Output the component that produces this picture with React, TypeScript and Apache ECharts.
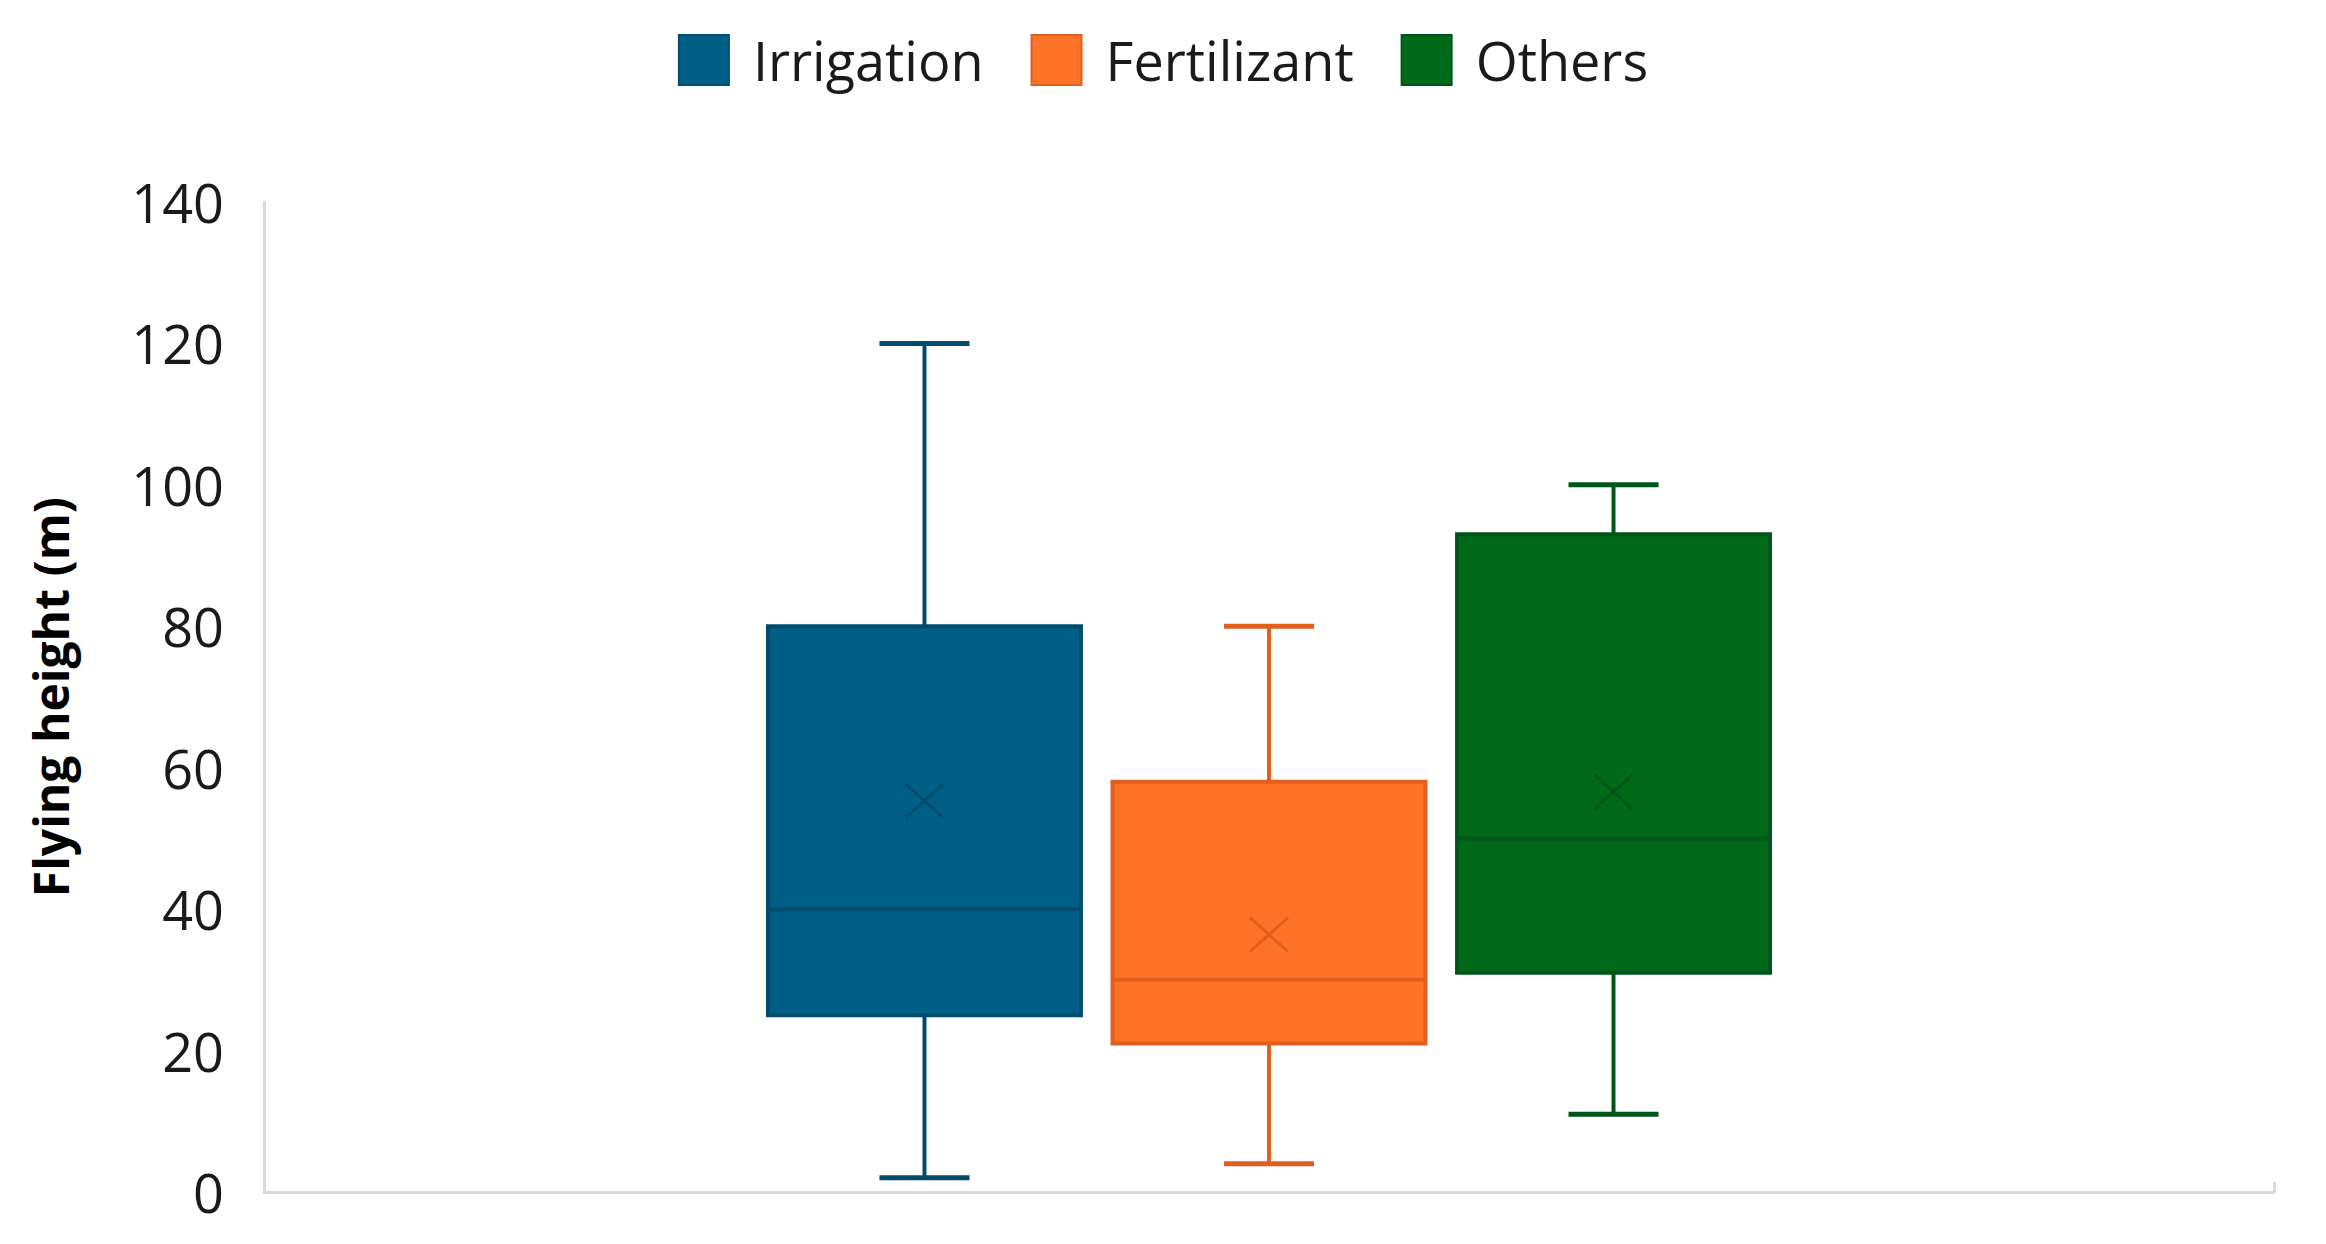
import React, { useEffect, useRef } from "react";
import * as echarts from "echarts";

// ---- Data ----
const categories = [""];
const seriesNames = ["Irrigation", "Fertilizant", "Others"];
// [categoryIndex, min, Q1, median, Q3, max, mean]
const irrigation = [0, 2, 25, 40, 80, 120, 55.3];
const fertilizant = [0, 4, 21, 30, 58, 80, 36.4];
const others = [0, 11, 31, 50, 93, 100, 56.6];
const yTicks = { min: 0, max: 140, interval: 20 };

const fills = ["#005F86", "#FF7328", "#00691A"];
const borders = ["#004C6D", "#E15E1C", "#00551A"];

const OFFSETS = [-0.1714, 0, 0.1714];
const BOX_FRAC = 0.1557;
const CAP_HALF_FRAC = 0.0224;

const FONT = "'Open Sans', 'Noto Sans', sans-serif";

export default function App() {
  const ref = useRef<HTMLDivElement>(null);
  useEffect(() => {
    if (!ref.current) return;
    const chart = echarts.init(ref.current, undefined, { renderer: "svg" });
    const datasets = [irrigation, fertilizant, others];

    const renderItem = (params: any, api: any) => {
      const si = params.seriesIndex;
      const idx = api.value(0);
      const band = api.size([1, 0])[0];
      const cx = api.coord([idx, 0])[0] + OFFSETS[si] * band;
      const w = BOX_FRAC * band;
      const cap = CAP_HALF_FRAC * band;
      const y = (i: number) => api.coord([idx, api.value(i)])[1];
      const yMin = y(1), yQ1 = y(2), yMed = y(3), yQ3 = y(4), yMax = y(5), yMean = y(6);
      const stroke = borders[si];
      const ls = { stroke, lineWidth: 4 };
      const xs = 19, ys = 17;
      return {
        type: "group",
        children: [
          { type: "line", shape: { x1: cx, y1: yQ3, x2: cx, y2: yMax }, style: ls },
          { type: "line", shape: { x1: cx, y1: yQ1, x2: cx, y2: yMin }, style: ls },
          { type: "line", shape: { x1: cx - cap, y1: yMax, x2: cx + cap, y2: yMax }, style: { stroke, lineWidth: 5 } },
          { type: "line", shape: { x1: cx - cap, y1: yMin, x2: cx + cap, y2: yMin }, style: { stroke, lineWidth: 5 } },
          {
            type: "rect",
            shape: { x: cx - w / 2, y: yQ3, width: w, height: yQ1 - yQ3 },
            style: { fill: fills[si], stroke, lineWidth: 4 },
          },
          { type: "line", shape: { x1: cx - w / 2, y1: yMed, x2: cx + w / 2, y2: yMed }, style: { stroke, lineWidth: 4 } },
          { type: "line", shape: { x1: cx - xs, y1: yMean - ys, x2: cx + xs, y2: yMean + ys }, style: { stroke, lineWidth: 3 } },
          { type: "line", shape: { x1: cx - xs, y1: yMean + ys, x2: cx + xs, y2: yMean - ys }, style: { stroke, lineWidth: 3 } },
        ],
      };
    };

    chart.setOption({
      animation: false,
      backgroundColor: "#ffffff",
      textStyle: { fontFamily: FONT },
      legend: {
        data: seriesNames,
        top: 28,
        left: "center",
        icon: "rect",
        itemWidth: 50,
        itemHeight: 50,
        itemGap: 47,
        textStyle: { fontSize: 54, color: "#1a1a1a", fontFamily: FONT, padding: [0, 0, 0, 19] },
      },
      grid: { left: 264, right: 52, top: 202, bottom: 52, containLabel: false },
      xAxis: {
        type: "category",
        data: categories,
        boundaryGap: true,
        axisLine: { show: true, lineStyle: { color: "#D9D9D9", width: 3 } },
        axisTick: { show: true, inside: true, length: 10, lineStyle: { color: "#D9D9D9", width: 3 } },
        axisLabel: { show: false },
        splitLine: { show: false },
      },
      yAxis: {
        type: "value",
        min: yTicks.min,
        max: yTicks.max,
        interval: yTicks.interval,
        name: "Flying height (m)",
        nameLocation: "middle",
        nameGap: 190,
        nameRotate: 90,
        nameTextStyle: { fontSize: 48, fontWeight: "bold", color: "#000", fontFamily: FONT },
        axisLine: { show: true, lineStyle: { color: "#D9D9D9", width: 3 } },
        axisTick: { show: false },
        axisLabel: { fontSize: 54, color: "#1a1a1a", margin: 40, fontFamily: FONT },
        splitLine: { show: false },
      },
      series: datasets.map((d, i) => ({
        type: "custom",
        name: seriesNames[i],
        renderItem,
        encode: { x: 0, y: [1, 2, 3, 4, 5, 6] },
        itemStyle: { color: fills[i], borderColor: borders[i], borderWidth: 3 },
        data: [d],
      })),
    });
    return () => chart.dispose();
  }, []);
  return (
    <div
      ref={ref}
      style={{ position: "fixed", left: 0, top: 0, width: 2326, height: 1244, background: "#fff" }}
    />
  );
}
